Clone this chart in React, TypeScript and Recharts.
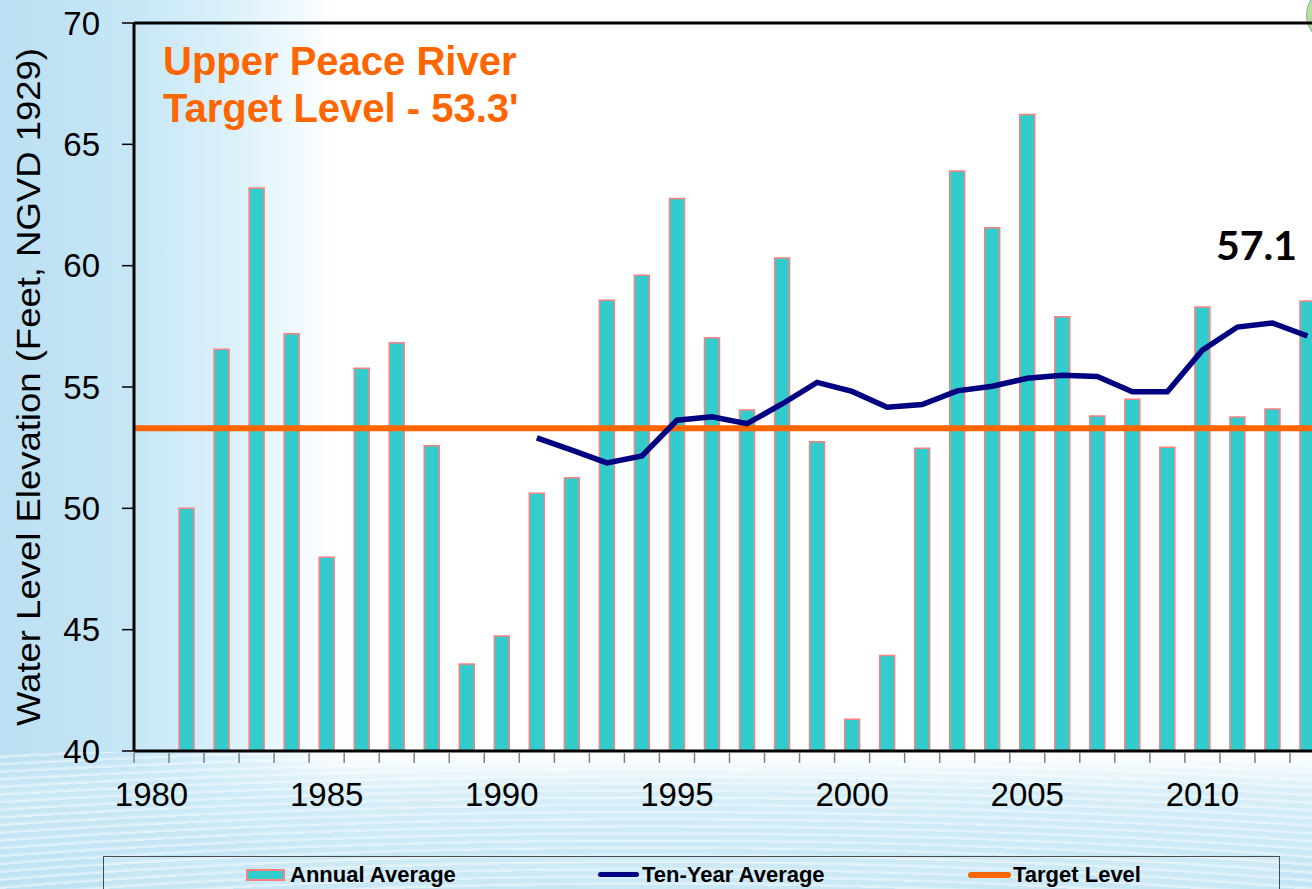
import React from "react";
import {
  ComposedChart, Bar, Line, XAxis, YAxis,
  ReferenceLine, Label, LabelList,
} from "recharts";

// values
const years = [
  "1980", "1981", "1982", "1983", "1984", "1985", "1986", "1987", "1988", "1989",
  "1990", "1991", "1992", "1993", "1994", "1995", "1996", "1997", "1998", "1999",
  "2000", "2001", "2002", "2003", "2004", "2005", "2006", "2007", "2008", "2009",
  "2010", "2011", "2012", "2013",
];

const annualAverage = [
  null, 50.0, 56.56, 63.2, 57.19, 47.98, 55.77, 56.82, 52.58, 43.59,
  44.74, 50.62, 51.26, 58.58, 59.61, 62.77, 57.03, 54.05, 60.32, 52.74,
  41.31, 43.94, 52.48, 63.9, 61.56, 66.23, 57.89, 53.8, 54.5, 52.52,
  58.3, 53.76, 54.09, 58.54,
];

const tenYearAverage = [
  null, null, null, null, null, null, null, null, null, null,
  null, 52.9, 52.4, 51.87, 52.16, 53.63, 53.77, 53.49, 54.3, 55.19,
  54.82, 54.17, 54.28, 54.84, 55.03, 55.36, 55.48, 55.43, 54.8, 54.8,
  56.52, 57.47, 57.64, 57.1,
];

const targetLevel = 53.3;
const yTicks = [40, 45, 50, 55, 60, 65, 70];
const labelEvery = 5;

const seriesNames = {
  annual: "Annual Average",
  tenYear: "Ten-Year Average",
  target: "Target Level",
};

const data = years.map((year, i) => ({
  year,
  annual: annualAverage[i],
  tenYear: tenYearAverage[i],
}));

const FONT = "'Liberation Sans', Arial, Helvetica, sans-serif";

const colors = {
  bar: "#33CCCC",
  barEdge: "#FF8080",
  tenYear: "#000080",
  target: "#FF6600",
  axis: "#000000",
  minorTick: "#808080",
};

// tick marks sit between categories, labels every fifth year
const YearTick = (props: any) => {
  const { x, y, payload, index } = props;
  const half = payload && payload.offset ? payload.offset : 17.5;
  return (
    <g>
      <line
        x1={x - half} x2={x - half} y1={y + 2} y2={y + 12}
        stroke={colors.minorTick} strokeWidth={1.5}
      />
      {index % labelEvery === 0 && (
        <text x={x} y={y + 55} textAnchor="middle" fontSize={33} fontFamily={FONT} fill="#000">
          {payload.value}
        </text>
      )}
    </g>
  );
};

const YTitle = (props: any) => {
  const vb = props.viewBox || {};
  const cy = vb.height ? vb.y + vb.height / 2 : 387;
  const cx = 40;
  return (
    <text
      x={cx} y={cy} transform={`rotate(-90, ${cx}, ${cy})`}
      textAnchor="middle" fontSize={34} fontFamily={FONT} fill="#000"
      textLength={678} lengthAdjust="spacingAndGlyphs"
    >
      Water Level Elevation (Feet, NGVD 1929)
    </text>
  );
};

const EndLabel = (props: any) => {
  const { x, y, value, index } = props;
  if (index !== years.length - 1 || value == null) return null;
  return (
    <text
      x={x - 51} y={y - 76} textAnchor="middle"
      fontSize={41} fontWeight={700} fontFamily="Lato, 'Open Sans', sans-serif" fill="#000"
    >
      {Number(value).toFixed(1)}
    </text>
  );
};

const legendText: React.CSSProperties = {
  position: "absolute", top: 863, fontFamily: FONT, fontWeight: 700,
  fontSize: 22, lineHeight: "24px", color: "#000", whiteSpace: "nowrap",
};

export default function App() {
  return (
    <div style={{ position: "absolute", left: 0, top: 0, width: 1312, height: 889, overflow: "hidden", background: "#fff" }}>
      <style>{`body{margin:0}`}</style>

      {/* watery background */}
      <div style={{
        position: "absolute", left: 0, top: 0, width: 1312, height: 889,
        background: "linear-gradient(to right, #bbdff2 0px, #c6e6f6 130px, #dbf1fa 230px, #f2fafe 300px, #ffffff 335px)",
      }} />
      <div style={{
        position: "absolute", left: 0, top: 752, width: 1312, height: 137,
        background:
          "repeating-radial-gradient(ellipse 1600px 260px at 650px 340px, rgba(255,255,255,0.45) 0px, rgba(255,255,255,0.45) 8px, rgba(255,255,255,0) 22px, rgba(255,255,255,0) 44px)," +
          "linear-gradient(to bottom, rgba(215,238,249,0) 0px, rgba(205,234,247,0.8) 40px, rgba(190,227,243,0.95) 137px)",
      }} />
      <div style={{
        position: "absolute", left: 1306, top: -14, width: 56, height: 56, borderRadius: "50%",
        background: "#b5df9e", border: "1px solid #8aa",
      }} />

      <div style={{ position: "absolute", left: 0, top: 0 }}>
        <ComposedChart
          width={1340}
          height={889}
          data={data}
          margin={{ top: 23, right: 15, bottom: 78, left: 0 }}
        >
          <XAxis
            dataKey="year"
            type="category"
            interval={0}
            height={60}
            tickSize={0}
            tickMargin={0}
            tickLine={false}
            axisLine={{ stroke: colors.axis, strokeWidth: 3 }}
            tick={<YearTick />}
          />
          <YAxis
            type="number"
            domain={[40, 70]}
            ticks={yTicks}
            width={134}
            tickSize={12}
            tickMargin={22}
            axisLine={{ stroke: colors.axis, strokeWidth: 3 }}
            tickLine={{ stroke: colors.axis, strokeWidth: 1.5 }}
            tick={{ fontSize: 33, fill: "#000", fontFamily: FONT }}
          >
            <Label content={<YTitle />} />
          </YAxis>
          <ReferenceLine y={70} stroke={colors.axis} strokeWidth={3} />
          <Bar
            dataKey="annual"
            name={seriesNames.annual}
            barSize={15}
            fill={colors.bar}
            stroke={colors.barEdge}
            strokeWidth={1.5}
            isAnimationActive={false}
          />
          <ReferenceLine y={targetLevel} stroke={colors.target} strokeWidth={6} />
          <Line
            dataKey="tenYear"
            name={seriesNames.tenYear}
            type="linear"
            stroke={colors.tenYear}
            strokeWidth={5.5}
            dot={false}
            activeDot={false}
            isAnimationActive={false}
          >
            <LabelList dataKey="tenYear" content={<EndLabel />} />
          </Line>
        </ComposedChart>
      </div>

      {/* title */}
      <div style={{
        position: "absolute", left: 163, top: 38, fontFamily: FONT, fontWeight: 700,
        fontSize: 40, lineHeight: "47px", color: colors.target, whiteSpace: "nowrap",
      }}>
        Upper Peace River<br />Target Level - {targetLevel}'
      </div>

      {/* legend */}
      <div style={{
        position: "absolute", left: 103, top: 856, width: 1175, height: 60,
        border: "1.5px solid #4a4a4a", background: "rgba(255,255,255,0.12)",
      }} />
      <div style={{
        position: "absolute", left: 246, top: 869, width: 35, height: 8,
        background: colors.bar, border: `2px solid ${colors.barEdge}`,
      }} />
      <div style={{ ...legendText, left: 290 }}>{seriesNames.annual}</div>
      <div style={{
        position: "absolute", left: 598, top: 872, width: 41, height: 5,
        borderRadius: 3, background: colors.tenYear,
      }} />
      <div style={{ ...legendText, left: 642 }}>{seriesNames.tenYear}</div>
      <div style={{
        position: "absolute", left: 968, top: 872, width: 43, height: 6,
        borderRadius: 3, background: colors.target,
      }} />
      <div style={{ ...legendText, left: 1013 }}>{seriesNames.target}</div>
    </div>
  );
}
